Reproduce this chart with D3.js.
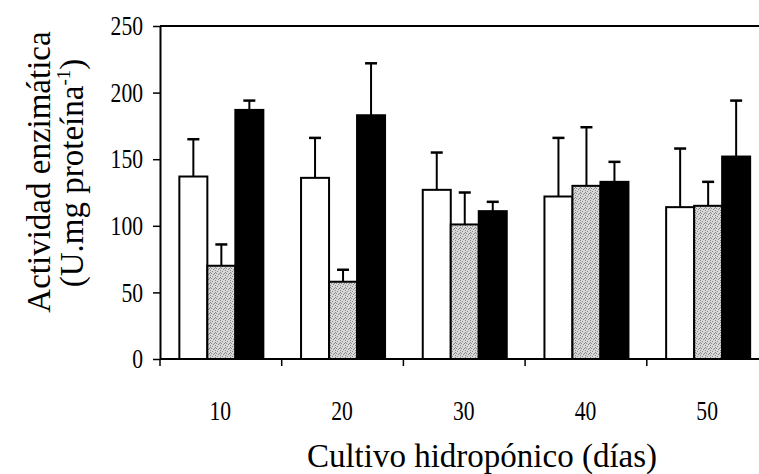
<!DOCTYPE html>
<html lang="es">
<head>
<meta charset="utf-8">
<title>Actividad enzimática</title>
<script src="https://cdn.jsdelivr.net/npm/d3@7"></script>
<style>
  body { margin: 0; background: #fff; }
  svg { font-family: "Liberation Serif", "Times New Roman", serif; }
  .axis path, .axis line { stroke: #000; fill: none; }
  .axis path { stroke-width: 2; }
  .axis line { stroke-width: 1.5; }
  .tick text {
    font-family: "Liberation Serif", "Times New Roman", serif;
    font-size: 27px; fill: #000;
    transform-box: fill-box;
    transform: scaleX(0.8);
  }
  .y.axis .tick text { transform-origin: 100% 50%; }
  .x.axis .tick text { transform-origin: 50% 50%; }
  .title { font-size: 33px; fill: #000; }
</style>
</head>
<body>
<script>
// datos
var dias = ["10", "20", "30", "40", "50"];
var series = ["blanco", "gris", "negro"];
var blanco = [137, 136, 127, 122, 114];
var blancoSD = [28, 30, 28, 44, 44];
var gris = [70, 58, 101, 130, 115];
var grisSD = [16, 9, 24, 44, 18];
var negro = [187, 183, 111, 133, 152];
var negroSD = [7, 39, 7, 15, 42];
var yTicks = [0, 50, 100, 150, 200, 250];

var W = 759, H = 474;
var mLeft = 160, mTop = 26, mBottom = 359;

var svg = d3.select("body").append("svg")
  .attr("width", W).attr("height", H);

// textura punteada para la serie gris
var pat = svg.append("defs").append("pattern")
  .attr("id", "stipple").attr("patternUnits", "userSpaceOnUse")
  .attr("width", 5).attr("height", 5);
pat.append("rect").attr("width", 5).attr("height", 5).attr("fill", "#d8d8d8");
[[0, 0], [2, 1], [4, 3], [1, 3], [3, 4], [0, 2]].forEach(function(p) {
  pat.append("rect").attr("x", p[0]).attr("y", p[1])
    .attr("width", 1).attr("height", 1).attr("fill", "#888");
});

var x = d3.scaleBand().domain(dias).range([159.5, 159.5 + 5 * 121.7]);
var xi = d3.scaleBand().domain(series)
  .range([x.bandwidth() / 2 - 41, x.bandwidth() / 2 + 43]);
var y = d3.scaleLinear().domain([0, 250]).range([mBottom, mTop]);
var xIdx = d3.scaleLinear().domain([0, 5]).range(x.range());

var data = [];
dias.forEach(function(d, i) {
  data.push({ dia: d, s: "blanco", v: blanco[i], sd: blancoSD[i] });
  data.push({ dia: d, s: "gris", v: gris[i], sd: grisSD[i] });
  data.push({ dia: d, s: "negro", v: negro[i], sd: negroSD[i] });
});
var fills = { blanco: "#fff", gris: "url(#stipple)", negro: "#000" };

// error bars (solo hacia arriba)
var err = svg.append("g").attr("stroke", "#000").attr("stroke-width", 2);
data.forEach(function(d) {
  var cx = x(d.dia) + xi(d.s) + xi.bandwidth() / 2;
  err.append("line").attr("x1", cx).attr("x2", cx)
    .attr("y1", y(d.v)).attr("y2", y(d.v + d.sd));
  err.append("line").attr("x1", cx - 6).attr("x2", cx + 6)
    .attr("y1", y(d.v + d.sd)).attr("y2", y(d.v + d.sd))
    .attr("stroke-width", 2.5);
});

svg.append("g").selectAll("rect").data(data).enter().append("rect")
  .attr("x", function(d) { return x(d.dia) + xi(d.s); })
  .attr("y", function(d) { return y(d.v); })
  .attr("width", xi.bandwidth())
  .attr("height", function(d) { return y(0) - y(d.v); })
  .attr("fill", function(d) { return fills[d.s]; })
  .attr("stroke", "#000").attr("stroke-width", 2);

// marco superior
svg.append("line").attr("x1", mLeft).attr("x2", W)
  .attr("y1", y(250)).attr("y2", y(250))
  .attr("stroke", "#000").attr("stroke-width", 2);

svg.append("g").attr("class", "y axis")
  .attr("transform", "translate(" + mLeft + ",0)")
  .call(d3.axisLeft(y).tickValues(yTicks).tickSize(7).tickSizeOuter(0).tickPadding(10));

// ticks en los limites de cada grupo
svg.append("g").attr("class", "x axis")
  .attr("transform", "translate(0," + mBottom + ")")
  .call(d3.axisBottom(xIdx).tickValues([0, 1, 2, 3, 4, 5]).tickFormat("")
    .tickSize(7).tickSizeOuter(0));
svg.select(".x.axis .domain").attr("d", "M" + mLeft + ",0H" + W);

svg.append("g").attr("class", "x axis")
  .attr("transform", "translate(0," + mBottom + ")")
  .call(d3.axisBottom(x).tickSize(0).tickPadding(42))
  .select(".domain").remove();

svg.append("text").attr("class", "title")
  .attr("x", 482).attr("y", 467).attr("text-anchor", "middle")
  .text("Cultivo hidropónico (días)");

svg.append("text").attr("class", "title")
  .attr("transform", "translate(50,172) rotate(-90)")
  .attr("text-anchor", "middle")
  .text("Actividad enzimática");

var t2 = svg.append("text").attr("class", "title")
  .attr("transform", "translate(83,173) rotate(-90)")
  .attr("text-anchor", "middle");
t2.append("tspan").text("(U.mg proteína");
t2.append("tspan").attr("font-size", "19px").attr("dy", -13).text("-1");
t2.append("tspan").attr("dy", 13).text(")");
</script>
</body>
</html>
